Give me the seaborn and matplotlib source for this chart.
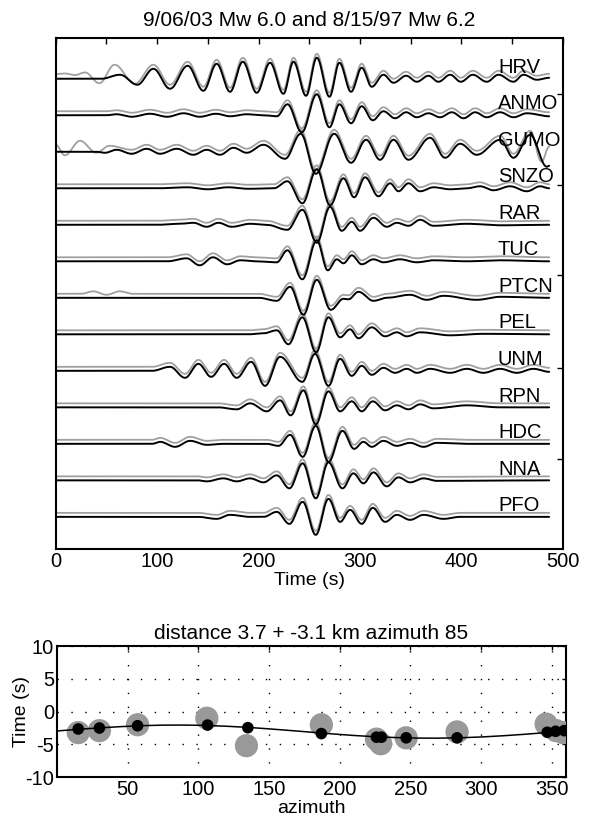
import numpy as np
import pandas as pd
import matplotlib
matplotlib.use("Agg")
import matplotlib.pyplot as plt
import seaborn as sns

# ---------------- data ----------------
stations = ["HRV", "ANMO", "GUMO", "SNZO", "RAR", "TUC", "PTCN",
            "PEL", "UNM", "RPN", "HDC", "NNA", "PFO"]

T_END = 486.5  # seconds, end of the traces

# black (synthetic) trace extrema: (time s, amplitude px)
HRV = [(0, 0), (45, 0), (63.4, 4), (80.5, -6), (96.3, 10), (112.7, -10), (130.1, 13),
       (145.6, -12), (158.7, 15), (171.9, -13), (184.4, 17), (198.2, -14), (211.3, 16),
       (224.5, -15), (234.4, 17), (246.8, -17), (257.4, 21), (269.9, -18), (279.7, 16),
       (291.2, -13), (301.7, 11), (311.6, -8), (323.1, 4), (333.0, -4), (345.5, 3),
       (356.0, -3), (367.5, 3), (377.3, -3), (388.9, 4), (399.4, -3), (411.2, 4),
       (425.0, -3), (436.5, 4), (451.3, -3), (461.2, 4), (474.3, -1), (486.5, 1)]
ANMO = [(0, 0), (50, 0), (60, 1), (75, -1.5), (93, 1.5), (110, -1.5), (126, 2),
        (142, -1.5), (158, 1.5), (172, -1), (188, 1), (205, 0), (218, -1),
        (228.5, 11), (242.6, -17), (257.4, 21), (269.9, -12), (279.7, 11), (291.2, -8),
        (301.7, 9), (312.6, -5), (323.1, 4), (334.6, -3), (345.5, 3), (356.0, -2),
        (367.5, 2), (379.0, -2), (390.6, 3), (402.1, -3), (413.5, 3), (425.0, -2),
        (438.2, 3), (451.3, -2), (464.5, 2), (486.5, -1)]
GUMO = [(0, 0), (40, 0), (48.6, -1), (60.1, 2), (74.9, -2), (89.7, 3), (102.9, -2),
        (119.3, 3), (135.7, -3), (148.9, 2), (162.0, -3), (175.2, 4), (188.3, -1),
        (204.8, 7), (226.1, -7), (241.6, 18), (256.4, -22), (274.5, 18), (291.2, -11),
        (306.0, 12), (319.8, -8), (333.0, 12), (347.8, -8), (369.1, 14), (383.9, -6),
        (398.7, 8), (415.1, -3), (438.2, 12), (451.3, -6), (467.8, 17), (484.2, -15),
        (486.5, -14)]
SNZO = [(0, 0), (100, 0), (130, 1), (150, -1), (170, 1), (190, -0.5), (215, 0),
        (228.4, 7), (243.2, -15), (257.4, 19), (270.5, -17), (283.7, 10), (294.2, -9),
        (305.0, 11), (318.2, -8), (329.7, 5), (337.9, -3), (347.8, 5), (359.3, -3),
        (372.4, 1), (388.9, -1), (405.3, 0), (418.4, 2), (431.6, -2), (448.0, 2),
        (464.5, -3), (477.6, 2), (486.5, 0)]
RAR = [(0, 0), (100, 0), (122, 1), (135.7, 2), (148.9, -2), (160.4, 2), (173.5, -2),
       (191.6, 1), (208.1, 0), (228.4, -5), (243.2, 15), (257.4, -18), (270.5, 18),
       (282.0, -6), (291.9, 3), (300.1, -6), (313.3, 7), (326.4, -2), (336.3, 2),
       (347.8, -1), (359.3, 5), (372.4, -1), (405.3, 1), (438.2, -0.5), (486.5, 0)]
TUC = [(0, 0), (110, 0), (129, 3), (142, -4), (155, 4), (169, -3), (182, 1), (198, 0),
       (217.9, -1), (228.4, 11), (243.2, -18), (257.4, 21), (268.2, -9), (277.1, 2),
       (283.7, -2), (291.9, 6), (301.7, -3), (313.3, 2), (323.1, -1), (339.5, 2),
       (356.0, -1), (372.4, 1), (405.3, 0), (438.2, 1), (486.5, 0)]
PTCN = [(0, 0), (200, 0), (218, -3), (231.1, 11), (244.2, -17), (257.4, 18),
        (271.2, -12), (283.7, -1), (288.6, -1.5), (298.5, 6), (313.3, -3), (326.4, 0),
        (349.4, 3), (365.8, -2), (382.3, 2), (415.1, -2), (438.2, 1), (486.5, 0)]
PEL = [(0, 0), (190, 0), (204.8, 1), (218, 4), (229.4, -10), (243.2, 17), (256.7, -18),
       (268.9, 17), (280.4, -3), (290.2, 5), (298.5, -4), (311.6, 7), (324.8, -2),
       (336.3, 2), (346.1, -2), (359.3, 2), (388.9, -1), (421.7, 0.5), (486.5, 0)]
UNM = [(0, 0), (95, 0), (112.7, 4), (127.5, -7), (140.7, 7), (153.2, -6), (166.0, 7),
       (178.5, -7), (192.6, 9), (206.4, -15), (221.2, 14), (243.2, -11), (255.7, 17),
       (268.9, -15), (280.4, 12), (291.9, -5), (301.7, 5), (311.6, -4), (323.1, 3),
       (334.6, -2), (346.1, 2), (356.0, -2), (369.1, 2), (388.9, -2), (405.3, 2),
       (421.7, -2), (438.2, 2), (454.6, -2), (471.0, 2), (486.5, -1)]
RPN = [(0, 0), (160, 0), (178.5, -2), (191.6, 4), (208.1, -4), (221.2, 7), (231.7, -8),
       (244.2, 17), (256.4, -17), (268.9, 16), (280.4, -4), (291.9, 6), (301.7, -4),
       (312.6, 6), (324.8, -3), (336.3, 2), (347.8, -2), (359.3, 3), (372.4, -1),
       (405.3, 2), (438.2, 0), (486.5, 0)]
HDC = [(0, 0), (95, 0), (102.9, 2), (117.7, -3), (132.5, 3), (148.9, -1), (165.3, 0),
       (208.1, 0), (219.6, -2), (231.1, 9), (243.5, -13), (256.4, 18), (268.9, -18),
       (282.7, 13), (294.2, -5), (303.4, 2), (311.6, -3), (323.1, 3), (336.3, -2),
       (349.4, 1), (362.6, -3), (375.7, 1), (405.3, 0), (486.5, 0)]
NNA = [(0, 0), (140, 0), (148.9, -1), (165.3, 2), (178.5, -1), (191.6, 2), (204.8, -2),
       (218, 5), (230.4, -8), (243.5, 17), (256.4, -18), (268.9, 18), (282.7, -8),
       (293.5, 7), (303.4, -3), (313.3, 8), (326.4, -6), (337.9, 3), (349.4, -2),
       (362.6, 2), (375.7, -0.5), (486.5, 0)]
PFO = [(0, 0), (140, 0), (158.7, -2), (171.9, 2), (191.6, 0), (204.8, 0), (218, 5),
       (230.4, -7), (243.5, 15), (256.4, -18), (268.9, 18), (280.4, -5), (290.2, 7),
       (301.7, -7), (312.6, 9), (324.8, -5), (336.3, 2), (349.4, -3), (362.6, 2),
       (382.3, -2), (398.7, 0), (486.5, 0)]

black_ext = {"HRV": HRV, "ANMO": ANMO, "GUMO": GUMO, "SNZO": SNZO, "RAR": RAR,
             "TUC": TUC, "PTCN": PTCN, "PEL": PEL, "UNM": UNM, "RPN": RPN,
             "HDC": HDC, "NNA": NNA, "PFO": PFO}

# gray (observed) trace: differs from black at its start / end for some stations
gray_head = {
    "HRV": [(0, 0.7), (9, 1.3), (19, -0.3), (29, 2.3), (43, -8.5), (58, 10), (78, -9)],
    "GUMO": [(0, 3), (9, -7.5), (24, 7), (40, -5), (53, 2)],
    "PTCN": [(0, 0), (25, 0), (37, 2.5), (50, -1), (63, 2.5), (76, 0)],
}
gray_tail = {
    "GUMO": [(479.0, -14), (486.5, 1)],
}

# bottom panel: station azimuths and times
gray_az = [15, 30, 57, 106, 134, 187, 226, 229, 247, 283, 346, 353, 358]
gray_time = [-3.2, -2.9, -2.0, -1.0, -5.2, -2.0, -4.2, -4.9, -4.0, -3.1, -1.9, -2.9, -3.2]
black_az = [15, 30, 57, 106.5, 135, 187, 226, 229.5, 247, 283, 346.8, 352.7, 358.8]
black_time = [-2.65, -2.5, -2.15, -2.05, -2.45, -3.35, -3.9, -3.9, -4.0, -4.0, -3.15, -3.0, -2.9]
curve_az = [0, 15, 30, 45, 60, 75, 90, 105, 120, 135, 150, 165, 180, 195, 210,
            225, 240, 255, 270, 285, 300, 315, 330, 345, 360]
curve_time = [-2.95, -2.70, -2.48, -2.29, -2.14, -2.06, -2.05, -2.10, -2.23, -2.40,
              -2.63, -2.88, -3.14, -3.40, -3.64, -3.83, -3.96, -4.04, -4.05, -3.99,
              -3.87, -3.69, -3.47, -3.22, -2.95]

# ---------------- helpers ----------------
PX_PER_TRACE = 36.5   # amplitude units per trace spacing
GRAY_OFFSET = 4.0     # gray trace drawn slightly above


def render(ext, t):
    ts = np.array([p[0] for p in ext], float)
    av = np.array([p[1] for p in ext], float)
    idx = np.clip(np.searchsorted(ts, t, side="right") - 1, 0, len(ts) - 2)
    t0, t1 = ts[idx], ts[idx + 1]
    a0, a1 = av[idx], av[idx + 1]
    s = np.clip((t - t0) / (t1 - t0), 0, 1)
    return a0 + (a1 - a0) * (1 - np.cos(np.pi * s)) / 2


def gray_points(name):
    pts = list(black_ext[name])
    if name in gray_head:
        h = gray_head[name]
        pts = h + [p for p in pts if p[0] > h[-1][0] + 8]
    if name in gray_tail:
        tl = gray_tail[name]
        pts = [p for p in pts if p[0] < tl[0][0] - 8] + tl
    return pts


t = np.arange(0, T_END + 0.01, 0.5)
rows_b, rows_g = [], []
for i, name in enumerate(stations):
    yb = -i + render(black_ext[name], t) / PX_PER_TRACE
    yg = -i + (render(gray_points(name), t) + GRAY_OFFSET) / PX_PER_TRACE
    rows_b.append(pd.DataFrame({"t": t, "y": yb, "station": name}))
    rows_g.append(pd.DataFrame({"t": t, "y": yg, "station": name}))
df_b = pd.concat(rows_b, ignore_index=True)
df_g = pd.concat(rows_g, ignore_index=True)

# ---------------- figure ----------------
sns.set_style("white")
plt.rcParams["font.family"] = ["Liberation Sans", "DejaVu Sans"]
plt.rcParams["axes.unicode_minus"] = False
plt.rcParams["axes.linewidth"] = 1.5
plt.rcParams["xtick.direction"] = "in"
plt.rcParams["ytick.direction"] = "in"
for key in ["text.color", "axes.labelcolor", "xtick.color", "ytick.color",
            "axes.edgecolor"]:
    plt.rcParams[key] = "black"

FS = 14.5
FT = 15
FL = 14
fig = plt.figure(figsize=(5.89, 8.18), dpi=100)
ax1 = fig.add_axes([0.0946, 0.329, 0.861, 0.624])
ax2 = fig.add_axes([0.0968, 0.050, 0.864, 0.160])

sns.lineplot(data=df_g, x="t", y="y", units="station", estimator=None, sort=False,
             color="#a0a0a0", lw=1.3, ax=ax1)
sns.lineplot(data=df_b, x="t", y="y", units="station", estimator=None, sort=False,
             color="black", lw=1.4, ax=ax1)

for i, name in enumerate(stations):
    ax1.text(436, -i + 0.05, name, fontsize=FS, ha="left", va="bottom")

ax1.set_xlim(0, 500)
ax1.set_ylim(-12.877, 1.104)
ax1.set_xticks([0, 50, 100, 150, 200, 250, 300, 350, 400, 450, 500])
ax1.set_xticklabels(["0", "", "100", "", "200", "", "300", "", "400", "", "500"])
ax1.set_yticks([-0.41, -2.90, -5.37, -7.92, -10.41])
ax1.set_yticklabels([])
ax1.tick_params(axis="both", which="both", top=True, right=True, length=4,
                width=1, labelsize=FS, pad=2)
ax1.set_xlabel("Time (s)", fontsize=FL, labelpad=1)
ax1.set_ylabel("")
ax1.set_title("9/06/03 Mw 6.0 and 8/15/97 Mw 6.2", fontsize=FT, pad=9)

# bottom panel
sns.scatterplot(x=gray_az, y=gray_time, s=280, color="#999999", edgecolor="none",
                ax=ax2, zorder=3)
sns.lineplot(x=curve_az, y=curve_time, color="black", lw=1.1, ax=ax2, zorder=4)
sns.scatterplot(x=black_az, y=black_time, s=70, color="black", edgecolor="none",
                ax=ax2, zorder=5)
ax2.set_xlim(0, 360)
ax2.set_ylim(-10, 10)
ax2.set_xticks([50, 100, 150, 200, 250, 300, 350])
ax2.set_yticks([-10, -5, 0, 5, 10])
ax2.grid(True, color="black", linestyle=(0, (1, 9)), lw=1)
ax2.tick_params(axis="both", which="both", top=True, right=True, length=3,
                width=1, labelsize=FS, pad=2)
ax2.set_xlabel("azimuth", fontsize=FL, labelpad=1)
ax2.set_ylabel("Time (s)", fontsize=FL, labelpad=-3)
ax2.set_title("distance 3.7 + -3.1 km azimuth 85", fontsize=FT, pad=5)

fig.savefig("out.png", dpi=100, facecolor="white")
